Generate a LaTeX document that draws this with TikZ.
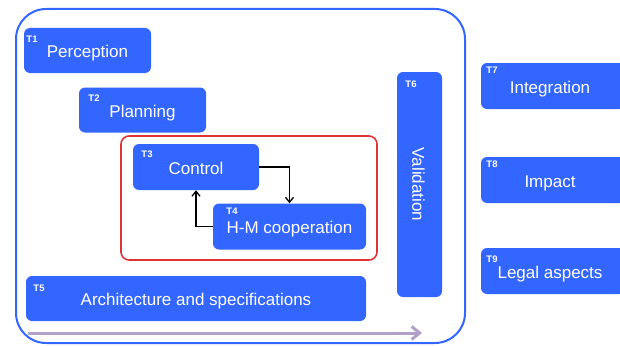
\documentclass[tikz,border=0pt]{standalone}
\usepackage{fontspec}
\setmainfont{Liberation Sans}
\usetikzlibrary{arrows.meta}
\definecolor{taskblue}{HTML}{3366FF}
\definecolor{loopred}{HTML}{E03434}
\definecolor{timeline}{RGB}{178,161,199}
\begin{document}
\begin{tikzpicture}[x=1pt,y=-1pt,
  task/.style={fill=taskblue,rounded corners=6pt,text=white,inner sep=0pt,text height=14.5pt,text depth=0pt,font=\fontsize{17}{19}\selectfont},
  tag/.style={text=white,inner sep=0pt,font=\bfseries\fontsize{9.5}{10}\selectfont},
  link/.style={-{Straight Barb[length=5pt,width=8pt]},line width=1.3pt,black}]
\useasboundingbox (0,0) rectangle (620,345);
\draw[taskblue,line width=2pt,rounded corners=30pt] (16,9) rectangle (465,343);
\draw[loopred,line width=1.6pt,rounded corners=8pt] (121,136) rectangle (377,260);
\node[task,minimum width=127pt,minimum height=45pt] (perc) at (87.5,50.5) {Perception};
\node[task,minimum width=127pt,minimum height=45pt] (plan) at (142.5,110) {Planning};
\node[task,minimum width=126pt,minimum height=46pt] (ctrl) at (196,167) {Control};
\node[task,minimum width=153pt,minimum height=46pt] (hmc) at (289.5,226.5) {H-M cooperation};
\node[task,minimum width=340pt,minimum height=45pt] (arch) at (196,298.5) {Architecture and specifications};
\node[task,rotate=-90,minimum width=225pt,minimum height=45pt] (valid) at (419.5,184.5) {Validation};
\node[task,minimum width=144pt,minimum height=46pt] (integ) at (553,86) {\hspace*{-6pt}Integration};
\node[task,minimum width=144pt,minimum height=46pt] (impact) at (553,180) {\hspace*{-6pt}Impact};
\node[task,minimum width=144pt,minimum height=46pt] (legal) at (553,271) {\hspace*{-6pt}Legal aspects};
\node[tag] (t1) at (32,39) {T1};
\node[tag] (t2) at (94,98) {T2};
\node[tag] (t3) at (147,154) {T3};
\node[tag] (t4) at (232,211) {T4};
\node[tag] (t5) at (39,288) {T5};
\node[tag] (t6) at (411,84) {T6};
\node[tag] (t7) at (492,70) {T7};
\node[tag] (t8) at (492,164) {T8};
\node[tag] (t9) at (492,259) {T9};
\draw[link] (ctrl.east) -| (hmc.north);
\draw[link] (hmc.west) -| (ctrl.south);
\coordinate (start) at (28,333);
\coordinate (stop) at (422,333);
\draw[timeline,line width=3pt,-{Straight Barb[length=8pt,width=13pt]}] (start) -- (stop);
\end{tikzpicture}
\end{document}
